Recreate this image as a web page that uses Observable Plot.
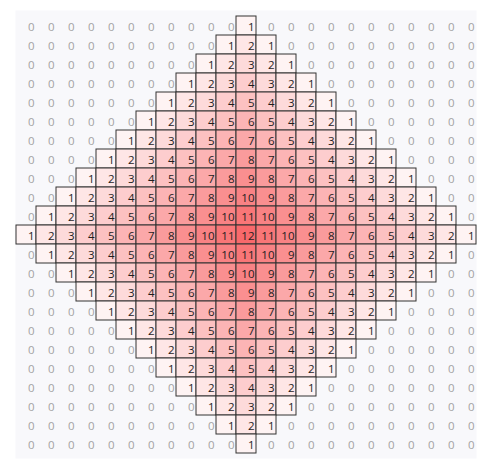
<!DOCTYPE html>
<html>
<head>
<meta charset="utf-8">
<script src="https://cdn.jsdelivr.net/npm/d3@7"></script>
<script src="https://cdn.jsdelivr.net/npm/@observablehq/plot@0.6"></script>
<style>
  html, body { margin: 0; padding: 0; background: #ffffff; }
  #chart svg { display: block; }
</style>
</head>
<body>
<div id="chart"></div>
<script>
// Grid values (row by row, top to bottom)
const rows = [
  [0,0,0,0,0,0,0,0,0,0,0,1,0,0,0,0,0,0,0,0,0,0,0],
  [0,0,0,0,0,0,0,0,0,0,1,2,1,0,0,0,0,0,0,0,0,0,0],
  [0,0,0,0,0,0,0,0,0,1,2,3,2,1,0,0,0,0,0,0,0,0,0],
  [0,0,0,0,0,0,0,0,1,2,3,4,3,2,1,0,0,0,0,0,0,0,0],
  [0,0,0,0,0,0,0,1,2,3,4,5,4,3,2,1,0,0,0,0,0,0,0],
  [0,0,0,0,0,0,1,2,3,4,5,6,5,4,3,2,1,0,0,0,0,0,0],
  [0,0,0,0,0,1,2,3,4,5,6,7,6,5,4,3,2,1,0,0,0,0,0],
  [0,0,0,0,1,2,3,4,5,6,7,8,7,6,5,4,3,2,1,0,0,0,0],
  [0,0,0,1,2,3,4,5,6,7,8,9,8,7,6,5,4,3,2,1,0,0,0],
  [0,0,1,2,3,4,5,6,7,8,9,10,9,8,7,6,5,4,3,2,1,0,0],
  [0,1,2,3,4,5,6,7,8,9,10,11,10,9,8,7,6,5,4,3,2,1,0],
  [1,2,3,4,5,6,7,8,9,10,11,12,11,10,9,8,7,6,5,4,3,2,1],
  [0,1,2,3,4,5,6,7,8,9,10,11,10,9,8,7,6,5,4,3,2,1,0],
  [0,0,1,2,3,4,5,6,7,8,9,10,9,8,7,6,5,4,3,2,1,0,0],
  [0,0,0,1,2,3,4,5,6,7,8,9,8,7,6,5,4,3,2,1,0,0,0],
  [0,0,0,0,1,2,3,4,5,6,7,8,7,6,5,4,3,2,1,0,0,0,0],
  [0,0,0,0,0,1,2,3,4,5,6,7,6,5,4,3,2,1,0,0,0,0,0],
  [0,0,0,0,0,0,1,2,3,4,5,6,5,4,3,2,1,0,0,0,0,0,0],
  [0,0,0,0,0,0,0,1,2,3,4,5,4,3,2,1,0,0,0,0,0,0,0],
  [0,0,0,0,0,0,0,0,1,2,3,4,3,2,1,0,0,0,0,0,0,0,0],
  [0,0,0,0,0,0,0,0,0,1,2,3,2,1,0,0,0,0,0,0,0,0,0],
  [0,0,0,0,0,0,0,0,0,0,1,2,1,0,0,0,0,0,0,0,0,0,0],
  [0,0,0,0,0,0,0,0,0,0,0,1,0,0,0,0,0,0,0,0,0,0,0]
];
const colIndex = d3.range(rows[0].length);
const rowIndex = d3.range(rows.length);

const cells = [];
rows.forEach((r, i) => r.forEach((v, j) => cells.push({row: i, col: j, value: v})));
const filled = cells.filter(d => d.value > 0);
const zeros = cells.filter(d => d.value === 0);

const chart = Plot.plot({
  width: 482,
  height: 465,
  marginLeft: 15,
  marginRight: 6,
  marginTop: 10,
  marginBottom: 7,
  style: {fontFamily: "'Open Sans', 'Noto Sans', sans-serif", background: "#ffffff"},
  x: {type: "band", domain: colIndex, padding: 0, axis: null},
  y: {type: "band", domain: rowIndex, padding: 0, axis: null},
  color: {type: "linear", domain: [0, 12], range: ["#ffffff", "#f8696b"]},
  marks: [
    Plot.frame({fill: "#f8f8fb", stroke: "none"}),
    Plot.cell(filled, {x: "col", y: "row", fill: "value", stroke: "#333333", strokeWidth: 1}),
    Plot.text(zeros, {x: "col", y: "row", text: d => String(d.value), fill: "#a3a3a3",
      textAnchor: "end", dx: 8, dy: 1, fontSize: 11.5}),
    Plot.text(filled, {x: "col", y: "row", text: d => String(d.value), fill: "#1e1e1e",
      textAnchor: "end", dx: 8, dy: 1, fontSize: 11.5})
  ]
});
document.getElementById("chart").appendChild(chart);
</script>
</body>
</html>
